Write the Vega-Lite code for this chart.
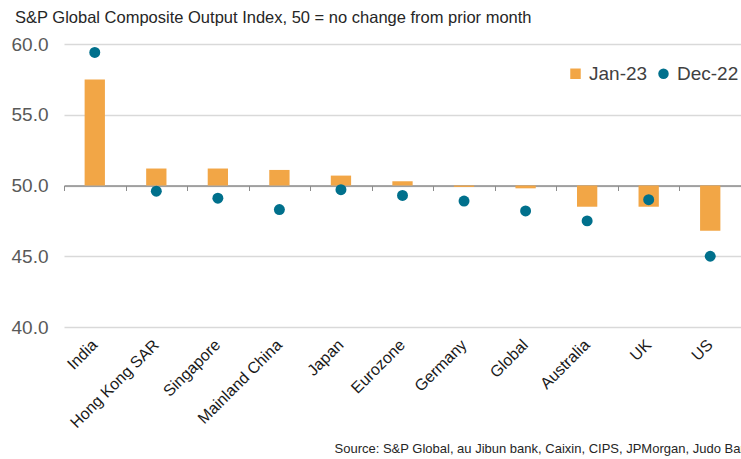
{
  "$schema": "https://vega.github.io/schema/vega-lite/v6.json",
  "width": 677,
  "height": 283,
  "autosize": {"type": "none"},
  "padding": {"left": 64, "top": 44, "right": 0, "bottom": 132},
  "background": "white",
  "config": {
    "view": {"stroke": null},
    "font": "Liberation Sans"
  },
  "title": {
    "text": "S&P Global  Composite  Output  Index, 50 = no change from prior month",
    "anchor": "start",
    "frame": "group",
    "dx": -49,
    "offset": 9,
    "fontSize": 16.5,
    "fontWeight": "normal",
    "color": "#262626",
    "font": "Liberation Sans"
  },
  "data": {
    "values": [
      {"country": "India", "series": "Jan-23", "value": 57.5},
      {"country": "Hong Kong SAR", "series": "Jan-23", "value": 51.2},
      {"country": "Singapore", "series": "Jan-23", "value": 51.2},
      {"country": "Mainland China", "series": "Jan-23", "value": 51.1},
      {"country": "Japan", "series": "Jan-23", "value": 50.7},
      {"country": "Eurozone", "series": "Jan-23", "value": 50.3},
      {"country": "Germany", "series": "Jan-23", "value": 49.9},
      {"country": "Global", "series": "Jan-23", "value": 49.8},
      {"country": "Australia", "series": "Jan-23", "value": 48.5},
      {"country": "UK", "series": "Jan-23", "value": 48.5},
      {"country": "US", "series": "Jan-23", "value": 46.8},
      {"country": "India", "series": "Dec-22", "value": 59.4},
      {"country": "Hong Kong SAR", "series": "Dec-22", "value": 49.6},
      {"country": "Singapore", "series": "Dec-22", "value": 49.1},
      {"country": "Mainland China", "series": "Dec-22", "value": 48.3},
      {"country": "Japan", "series": "Dec-22", "value": 49.7},
      {"country": "Eurozone", "series": "Dec-22", "value": 49.3},
      {"country": "Germany", "series": "Dec-22", "value": 48.9},
      {"country": "Global", "series": "Dec-22", "value": 48.2},
      {"country": "Australia", "series": "Dec-22", "value": 47.5},
      {"country": "UK", "series": "Dec-22", "value": 49.0},
      {"country": "US", "series": "Dec-22", "value": 45.0}
    ]
  },
  "encoding": {
    "x": {
      "field": "country",
      "type": "nominal",
      "sort": null,
      "scale": {"paddingInner": 0, "paddingOuter": 0}
    },
    "y": {
      "field": "value",
      "type": "quantitative",
      "scale": {"domain": [40, 60], "nice": false, "zero": false},
      "axis": {
        "values": [40, 45, 50, 55, 60],
        "format": ".1f",
        "title": null,
        "domain": false,
        "ticks": false,
        "labelFontSize": 19,
        "labelColor": "#595959",
        "labelPadding": 16,
        "gridColor": "#d9d9d9",
        "gridWidth": 1.3
      }
    }
  },
  "layer": [
    {
      "transform": [{"filter": "datum.series === 'Jan-23'"}],
      "mark": {"type": "bar", "width": {"band": 0.33}},
      "encoding": {
        "x": {
          "field": "country",
          "type": "nominal",
          "sort": null,
          "axis": {
            "title": "Source: S&P Global, au Jibun bank, Caixin, CIPS, JPMorgan, Judo Bank",
            "titleX": 270,
            "titleY": 125,
            "titleAlign": "left",
            "titleAnchor": null,
            "titleBaseline": "alphabetic",
            "titleFontSize": 13,
            "titleFontWeight": "normal",
            "titleColor": "#262626",
            "domain": false,
            "ticks": false,
            "labelAngle": -45,
            "labelAlign": "right",
            "labelBaseline": "middle",
            "labelFontSize": 16,
            "labelColor": "#1a1a1a",
            "labelPadding": 15,
            "labelLimit": 300
          }
        },
        "y2": {"datum": 50},
        "color": {
          "field": "series",
          "type": "nominal",
          "scale": {"domain": ["Jan-23", "Dec-22"], "range": ["#F2A646", "#00708C"]},
          "legend": {
            "title": null,
            "orient": "none",
            "legendX": 502,
            "legendY": 20,
            "direction": "horizontal",
            "labelFontSize": 19,
            "labelColor": "#404040",
            "symbolSize": 110,
            "columnPadding": 6,
            "labelOffset": 4
          }
        }
      }
    },
    {
      "transform": [{"filter": "datum.series === 'Dec-22'"}],
      "mark": {"type": "point", "filled": true, "opacity": 1, "size": 120},
      "encoding": {
        "x": {
          "field": "country",
          "type": "nominal",
          "sort": null,
          "axis": {
            "orient": "bottom",
            "offset": -141.5,
            "labels": false,
            "title": null,
            "domain": true,
            "domainColor": "#8c8c8c",
            "domainWidth": 1.3,
            "ticks": true,
            "tickBand": "extent",
            "tickColor": "#8c8c8c",
            "tickSize": 5,
            "grid": false
          }
        },
        "color": {
          "field": "series",
          "type": "nominal",
          "scale": {"domain": ["Jan-23", "Dec-22"], "range": ["#F2A646", "#00708C"]}
        },
        "shape": {
          "field": "series",
          "type": "nominal",
          "scale": {"domain": ["Jan-23", "Dec-22"], "range": ["square", "circle"]}
        }
      }
    }
  ],
  "resolve": {"axis": {"x": "independent"}}
}
